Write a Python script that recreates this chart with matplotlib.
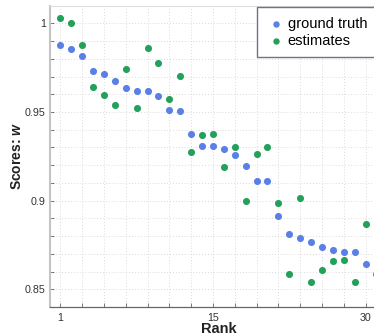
import numpy as np
import matplotlib
matplotlib.use('Agg')
import matplotlib.pyplot as plt
from matplotlib.ticker import MultipleLocator, FixedLocator

# --- Data ---
rank_truth = list(range(1, 31))
ground_truth = [0.9876, 0.9853, 0.9815, 0.9730, 0.9714, 0.9674, 0.9635, 0.9618, 0.9617, 0.9591,
                0.9514, 0.9506, 0.9376, 0.9309, 0.9310, 0.9292, 0.9260, 0.9198, 0.9113, 0.9109,
                0.8914, 0.8814, 0.8788, 0.8769, 0.8737, 0.8724, 0.8712, 0.8712, 0.8641, 0.8584]

rank_est = list(range(1, 30))
estimates = [1.0032, 1.0002, 0.9881, 0.9639, 0.9598, 0.9537, 0.9741, 0.9522, 0.9859, 0.9777,
             0.9573, 0.9702, 0.9277, 0.9371, 0.9377, 0.9190, 0.9303, 0.8998, 0.9266, 0.9302,
             0.8988, 0.8586, 0.9013, 0.8541, 0.8607, 0.8660, 0.8667, 0.8541, 0.8867]

xtick_pos = [1, 15, 29]
xtick_labels = ['1', '15', '30']
ytick_pos = [0.85, 0.9, 0.95, 1.0]
ytick_labels = ['0.85', '0.9', '0.95', '1']

plt.rcParams['font.family'] = ['Liberation Sans', 'DejaVu Sans']
plt.rcParams['mathtext.fontset'] = 'custom'
plt.rcParams['mathtext.it'] = 'Liberation Sans:italic:bold'

blue = '#5a7fe6'
green = '#23a05a'

fig = plt.figure(figsize=(3.74, 3.36), dpi=100)
ax = fig.add_axes([50 / 374, 29 / 336, 337.4 / 374, 301.3 / 336])

ax.scatter(rank_truth, ground_truth, s=26, color=blue, linewidths=0, label='ground truth', zorder=3)
ax.scatter(rank_est, estimates, s=26, color=green, linewidths=0, label='estimates', zorder=3)

ax.set_xlim(0.05, 31)
ax.set_ylim(0.84, 1.01)

ax.xaxis.set_major_locator(FixedLocator(xtick_pos))
ax.set_xticklabels(xtick_labels)
ax.xaxis.set_minor_locator(FixedLocator(list(range(1, 31, 2))))
ax.yaxis.set_major_locator(FixedLocator(ytick_pos))
ax.set_yticklabels(ytick_labels)
ax.yaxis.set_minor_locator(MultipleLocator(0.01))

ax.tick_params(which='both', direction='in', length=3, width=0.7, color='#777777',
               labelsize=7.7, labelcolor='#333333', pad=3)
ax.tick_params(axis='x', which='both', pad=4)

ax.grid(which='both', linestyle=(0, (1, 2.5)), linewidth=0.6, color='#cfcfcf', zorder=0)
ax.set_axisbelow(True)

ax.spines['left'].set_color('#c4c4c4')
ax.spines['left'].set_linewidth(1.5)
ax.spines['bottom'].set_color('#666666')
ax.spines['bottom'].set_linewidth(0.9)
ax.spines['top'].set_color('#dddddd')
ax.spines['top'].set_linewidth(0.8)
ax.spines['right'].set_visible(False)

ax.set_xlabel('Rank', fontsize=10.5, fontweight='bold', labelpad=-0.5, color='#222222')
ax.set_ylabel('Scores: $w$', fontsize=10, fontweight='bold', labelpad=1, color='#222222')

leg = ax.legend(loc='upper left', bbox_to_anchor=(0.6126, 0.9947), borderaxespad=0,
                fontsize=10.5, frameon=True, fancybox=False, framealpha=1,
                edgecolor='#6b7385', borderpad=0.65, handlelength=1.3, handletextpad=0.18,
                labelspacing=0.2, markerscale=0.9)
leg.get_frame().set_linewidth(1.0)

fig.savefig('out.png', dpi=100)
